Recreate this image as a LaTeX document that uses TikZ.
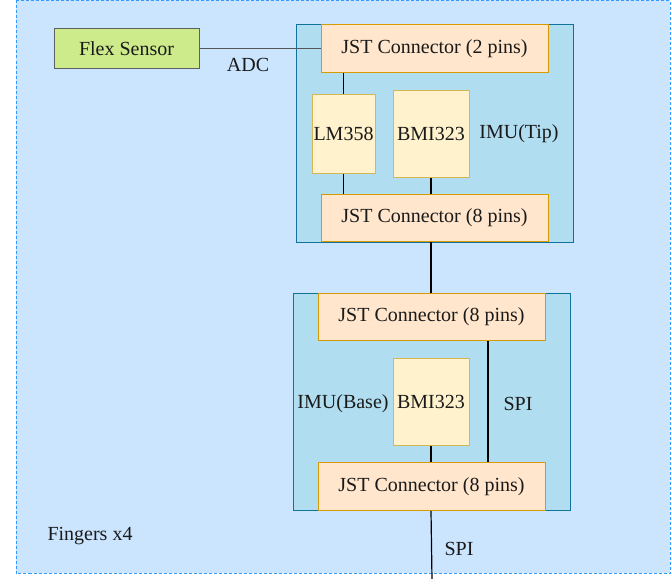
\documentclass[tikz,border=0pt]{standalone}
\usepackage{fontspec}
\setmainfont{Liberation Serif}
\newfontfamily\tnr{Liberation Serif}
\usetikzlibrary{calc}
\definecolor{outerfill}{HTML}{CCE5FF}
\definecolor{outerdraw}{HTML}{3399FF}
\definecolor{imufill}{HTML}{B1DDF0}
\definecolor{imudraw}{HTML}{10739E}
\definecolor{jstfill}{HTML}{FFE6CC}
\definecolor{jstdraw}{HTML}{D79B00}
\definecolor{chipfill}{HTML}{FFF2CC}
\definecolor{chipdraw}{HTML}{D6B656}
\definecolor{flexfill}{HTML}{CDEB8B}
\definecolor{darkline}{HTML}{36393D}
\definecolor{txt}{HTML}{1A1A1A}
\tikzset{
  every node/.style={font=\tnr\fontsize{20}{24}\selectfont, text=txt, inner sep=0pt},
  box/.style={rectangle, line width=1pt},
  imubox/.style={box, fill=imufill, draw=imudraw},
  jstbox/.style={box, fill=jstfill, draw=jstdraw, minimum width=227pt, minimum height=47.5pt},
  chipbox/.style={box, fill=chipfill, draw=chipdraw},
  flexbox/.style={box, fill=flexfill, draw=darkline!80},
  wire/.style={line width=1.2pt, draw=black},
  lbl/.style={}
}
\begin{document}
\begin{tikzpicture}[x=1pt,y=-1pt]
\useasboundingbox (0,0) rectangle (671,578);
% outer group
\draw[fill=outerfill, draw=outerdraw, line width=1pt, dash pattern=on 3pt off 2pt] (16,0.5) rectangle (670,573);
\node[lbl] (fingers) at (90,536) {Fingers x4};

% flex sensor
\node[flexbox, minimum width=145pt, minimum height=39pt] (flex) at (126.5,48.5) {Flex Sensor};

% IMU tip
\node[imubox, minimum width=277pt, minimum height=217pt] (imut) at (434.5,133.5) {};
\node[jstbox] (jst2) at (434.5,48.5) {JST Connector (2 pins)};
\node[chipbox, minimum width=63pt, minimum height=79pt] (lm) at (343.5,133.5) {LM358};
\node[chipbox, minimum width=76pt, minimum height=87pt] (bmit) at (431,133.5) {\raisebox{-3pt}{BMI323}};
\node[lbl] (imutl) at (519,134) {IMU(Tip)};
\node[jstbox] (jst8t) at (434.5,218) {JST Connector (8 pins)};

% IMU base
\node[imubox, minimum width=277pt, minimum height=217pt] (imub) at (431.5,401.5) {};
\node[jstbox] (jstbt) at (431.5,317) {JST Connector (8 pins)};
\node[chipbox, minimum width=76pt, minimum height=87pt] (bmib) at (431,401.5) {BMI323};
\node[lbl] (imubl) at (343,404) {IMU(Base)};
\node[lbl] (spiin) at (518,404) {SPI};
\node[jstbox] (jstbb) at (431.5,486.5) {JST Connector (8 pins)};

% labels
\node[lbl] (adc) at (248,65) {ADC};
\node[lbl] (spiout) at (459,549) {SPI};
\coordinate (bottomend) at (432,580);
\coordinate (spix) at (488,0);

% wires
\draw[line width=1.6pt, draw=darkline!85] (flex.east) -- (flex.east -| jst2.west);
\draw[wire] (lm.north) -- (lm.north |- jst2.south);
\draw[wire] (lm.south) -- (lm.south |- jst8t.north);
\draw[wire] (bmit.south) -- (bmit.south |- jst8t.north);
\draw[wire] (bmit.south |- jst8t.south) -- (bmit.south |- jstbt.north);
\draw[wire] (spix |- jstbt.south) -- (spix |- jstbb.north);
\draw[wire] (bmib.south) -- (bmib.south |- jstbb.north);
\draw[wire] (bmib.south |- jstbb.south) -- (bottomend);
\end{tikzpicture}
\end{document}
